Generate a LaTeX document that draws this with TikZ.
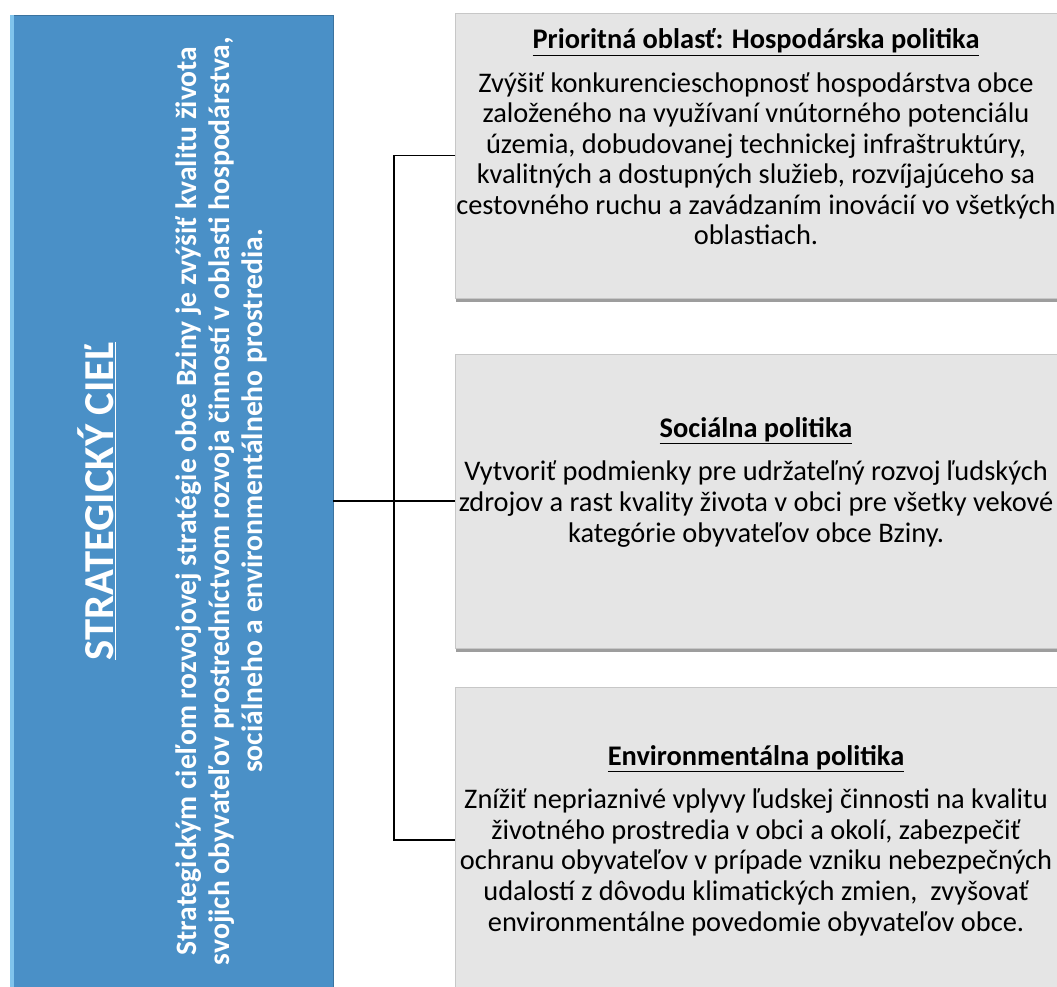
\documentclass[tikz,border=0pt]{standalone}
\usepackage{fontspec}
\setmainfont{Carlito}
\usetikzlibrary{shadows}
\usetikzlibrary{positioning}
\definecolor{goalblue}{RGB}{74,144,199}
\definecolor{goallight}{RGB}{128,196,236}
\definecolor{areagray}{RGB}{229,229,229}
\tikzstyle{goal} = [rectangle, minimum width=242.25pt, minimum height=729pt, inner sep=0pt, fill=goalblue, draw=goalblue!80!black, line width=0.6pt]
\tikzstyle{area} = [rectangle, minimum width=451.5pt, inner sep=0pt, fill=areagray, draw=black!22, line width=0.6pt, drop shadow={shadow xshift=0.4pt, shadow yshift=-3pt, opacity=0.7, fill=black!55}]
\tikzstyle{areatext} = [anchor=base, align=center, inner sep=0pt, font=\fontsize{21.3}{22.9}\selectfont]
\tikzstyle{goaltext} = [rotate=90, anchor=base, align=center, inner sep=0pt, text=white]
\tikzstyle{link} = [line width=1.1pt, black]
\newcommand{\headline}[1]{\textbf{\underline{#1}}}

\begin{document}
\begin{tikzpicture}[x=0.75pt, y=-0.75pt]
 \useasboundingbox (0,0) rectangle (1057,987);
 \clip (0,0) rectangle (1057,987);
 % strategic goal on the left
 \node (goal) [goal] at (171.5,501) {};
 \fill [goallight] (goal.north west) rectangle ([xshift=3pt]goal.south west);
 \node (goaltitle) [goaltext, font=\bfseries\fontsize{32}{38}\selectfont] at (113,501) {\underline{STRATEGICKÝ CIEĽ}};
 \node (goalbody) [goaltext, font=\bfseries\fontsize{22.2}{24.4}\selectfont] at (262,501) {Strategickým cieľom rozvojovej stratégie obce Bziny je zvýšiť kvalitu života\\ svojich obyvateľov prostredníctvom rozvoja činností v oblasti hospodárstva,\\ sociálneho a environmentálneho prostredia.};

 % priority areas
 \node (econ) [area, minimum height=213.75pt] at (756,155.5) {};
 \node (social) [area, minimum height=220.5pt] at (756,501) {};
 \node (env) [area, minimum height=229.5pt] at (756,840) {};

 \node (econtext) [areatext] at (756,245) {\headline{Prioritná oblasť: Hospodárska politika}\\[10pt]
  Zvýšiť konkurencieschopnosť hospodárstva obce\\ založeného na využívaní vnútorného potenciálu\\ územia, dobudovanej technickej infraštruktúry,\\ kvalitných a dostupných služieb, rozvíjajúceho sa\\ cestovného ruchu a zavádzaním inovácií vo všetkých\\ oblastiach.};
 \node (socialtext) [areatext] at (756,542) {\headline{Sociálna politika}\\[10pt]
  Vytvoriť podmienky pre udržateľný rozvoj ľudských\\ zdrojov a rast kvality života v obci pre všetky vekové\\ kategórie obyvateľov obce Bziny.};
 \node (envtext) [areatext] at (756,931) {\headline{Environmentálna politika}\\[10pt]
  Znížiť nepriaznivé vplyvy ľudskej činnosti na kvalitu\\ životného prostredia v obci a okolí, zabezpečiť\\ ochranu obyvateľov v prípade vzniku nebezpečných\\ udalostí z dôvodu klimatických zmien,~ zvyšovať\\ environmentálne povedomie obyvateľov obce.};

 % connectors
 \coordinate (fork) at (394,501);
 \draw [link] (goal.east |- fork) -- (social.west);
 \draw [link] (econ.west) -| (fork) |- (env.west);
\end{tikzpicture}
\end{document}
